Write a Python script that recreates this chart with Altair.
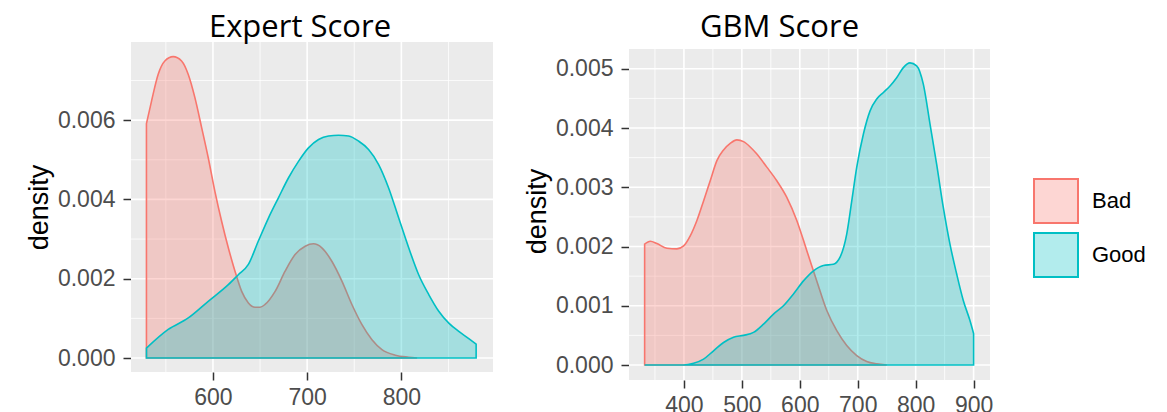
import altair as alt
import pandas as pd

# ---------------- data ----------------
groups = ["Bad", "Good"]
line_colors = ["#F8766D", "#00BFC4"]
fill_colors = ["rgba(248,118,109,0.3)", "rgba(0,191,196,0.3)"]

expert_bad_x = [529.4, 534.8, 541.8, 548.9, 557.8, 566.7, 573.8, 580.9, 588.0, 595.0,
                602.0, 609.2, 616.3, 623.4, 630.5, 637.6, 644.7, 650.0, 655.3, 666.0,
                676.6, 687.2, 697.9, 706.7, 715.6, 726.2, 736.9, 747.5, 758.2, 768.8,
                779.4, 793.6, 807.8, 816.7]
expert_bad_y = [0.00591, 0.00648, 0.00715, 0.00749, 0.00760, 0.00749, 0.00715, 0.00656,
                0.00581, 0.00505, 0.00421, 0.00345, 0.00278, 0.00219, 0.00168, 0.00139,
                0.00128, 0.00128, 0.00135, 0.00168, 0.00219, 0.00261, 0.00282, 0.00288,
                0.00278, 0.00244, 0.00194, 0.00135, 0.00084, 0.00046, 0.00021, 0.00007,
                0.00002, 0.0]

expert_good_x = [529.4, 552.5, 573.8, 595.0, 616.3, 626.9, 637.6, 648.2, 658.9, 669.5,
                 680.1, 690.8, 701.4, 712.1, 722.7, 733.3, 744.0, 754.6, 765.2, 775.9,
                 786.5, 797.2, 807.8, 818.4, 829.1, 839.7, 850.4, 861.0, 871.6, 879.4]
expert_good_y = [0.00025, 0.00072, 0.00101, 0.00143, 0.00185, 0.00210, 0.00236, 0.00295,
                 0.00353, 0.00404, 0.00454, 0.00496, 0.00530, 0.00551, 0.00560, 0.00562,
                 0.00560, 0.00547, 0.00526, 0.00488, 0.00429, 0.00353, 0.00278, 0.00210,
                 0.00160, 0.00118, 0.00088, 0.00067, 0.00049, 0.00035]

gbm_bad_x = [332.2, 342.0, 353.4, 370.7, 387.9, 399.4, 410.9, 422.4, 433.9, 445.4,
             456.9, 468.4, 479.9, 491.4, 502.9, 514.4, 525.9, 543.1, 560.3, 577.6,
             594.8, 612.1, 629.3, 646.6, 663.8, 681.0, 698.3, 715.5, 732.8, 750.0]
gbm_bad_y = [0.00204, 0.00209, 0.00205, 0.00197, 0.00196, 0.00201, 0.00218, 0.00244,
             0.00277, 0.00311, 0.00345, 0.00363, 0.00374, 0.00380, 0.00377, 0.00368,
             0.00356, 0.00334, 0.00311, 0.00283, 0.00244, 0.00193, 0.00142, 0.00092,
             0.00058, 0.00033, 0.00016, 0.00006, 0.00002, 0.0]

gbm_good_x = [332.2, 399.4, 416.7, 433.9, 451.1, 468.4, 485.6, 502.9, 520.1, 537.4,
              554.6, 571.8, 589.1, 606.3, 623.6, 640.8, 658.0, 669.5, 681.0, 689.7,
              698.3, 709.8, 721.3, 732.8, 744.3, 755.7, 767.2, 778.7, 790.2, 801.7,
              813.2, 824.7, 836.2, 847.7, 859.2, 870.7, 882.2, 893.7, 900.0]
gbm_good_y = [0.0, 0.0, 0.00003, 0.00010, 0.00024, 0.00038, 0.00047, 0.00050, 0.00055,
              0.00069, 0.00086, 0.00100, 0.00120, 0.00142, 0.00159, 0.00168, 0.00170,
              0.00182, 0.00221, 0.00277, 0.00334, 0.00390, 0.00429, 0.00449, 0.00460,
              0.00471, 0.00485, 0.00502, 0.00510, 0.00505, 0.00474, 0.00407, 0.00339,
              0.00266, 0.00204, 0.00154, 0.00109, 0.00075, 0.00053]

# axis breaks
expert_x_major = [600, 700, 800]
expert_x_minor = [550, 650, 750, 850]
expert_y_major = [0.000, 0.002, 0.004, 0.006]
expert_y_minor = [0.001, 0.003, 0.005, 0.007]
gbm_x_major = [400, 500, 600, 700, 800, 900]
gbm_x_minor = [350, 450, 550, 650, 750, 850]
gbm_y_major = [0.000, 0.001, 0.002, 0.003, 0.004, 0.005]
gbm_y_minor = [0.0005, 0.0015, 0.0025, 0.0035, 0.0045]


def long_df(bx, by, gx, gy):
    return pd.concat([
        pd.DataFrame({"x": bx, "y": by, "group": groups[0]}),
        pd.DataFrame({"x": gx, "y": gy, "group": groups[1]}),
    ], ignore_index=True)


LABEL_FONT = "Liberation Sans"


def make_legend():
    return alt.Legend(title=None, orient="none", legendX=902, legendY=136,
                      symbolType="square", symbolSize=1936, symbolStrokeWidth=2,
                      labelFontSize=22, labelFont=LABEL_FONT, labelColor="black",
                      labelOffset=13, rowPadding=2, padding=0)


def panel(df, title, xdom, ydom, xmaj, xmin, ymaj, ymin, W, H, top, dx):
    xs = alt.Scale(domain=xdom, nice=False, zero=False)
    ys = alt.Scale(domain=ydom, nice=False, zero=False)
    xaxis = alt.Axis(values=xmaj, title=None, grid=False, domain=False,
                     tickColor="#333333", tickSize=8, tickWidth=1.5,
                     labelColor="#4D4D4D", labelFontSize=23, labelFont=LABEL_FONT,
                     labelPadding=6)
    yaxis = alt.Axis(values=ymaj, format=".3f", title="density", grid=False, domain=False,
                     tickColor="#333333", tickSize=8, tickWidth=1.5,
                     labelColor="#4D4D4D", labelFontSize=23, labelFont=LABEL_FONT,
                     labelPadding=8, titleFont=LABEL_FONT, titleFontSize=27,
                     titleColor="black", titleFontWeight="normal", titlePadding=4)

    bg = alt.Chart(alt.Data(values=[{}])).mark_rect(color="#EBEBEB").encode(
        x=alt.value(0), x2=alt.value(W), y=alt.value(top), y2=alt.value(H))

    def vrules(vals, w):
        return alt.Chart(pd.DataFrame({"v": vals})).mark_rule(color="white", strokeWidth=w).encode(
            x=alt.X("v:Q", scale=xs, axis=xaxis))

    def hrules(vals, w):
        return alt.Chart(pd.DataFrame({"v": vals})).mark_rule(color="white", strokeWidth=w).encode(
            y=alt.Y("v:Q", scale=ys, axis=yaxis))

    areas = alt.Chart(df).mark_area(strokeWidth=1.6, interpolate="monotone").encode(
        x=alt.X("x:Q", scale=xs, axis=xaxis),
        y=alt.Y("y:Q", scale=ys, axis=yaxis, stack=False),
        fill=alt.Fill("group:N", scale=alt.Scale(domain=groups, range=fill_colors),
                      legend=make_legend()),
        stroke=alt.Stroke("group:N", scale=alt.Scale(domain=groups, range=line_colors),
                          legend=make_legend()),
    )

    return alt.layer(
        bg, vrules(xmin, 0.8), hrules(ymin, 0.8), vrules(xmaj, 1.6), hrules(ymaj, 1.6), areas
    ).properties(
        width=W, height=H,
        title=alt.TitleParams(title, font="Open Sans", fontSize=31, fontWeight="normal",
                              color="black", anchor="middle", offset=-3, dx=dx),
    )


p1 = panel(long_df(expert_bad_x, expert_bad_y, expert_good_x, expert_good_y),
           "Expert Score", [513.0, 897.3], [-0.000353, 0.00797],
           expert_x_major, expert_x_minor, expert_y_major, expert_y_minor,
           362, 330, 0, -12)
p2 = panel(long_df(gbm_bad_x, gbm_bad_y, gbm_good_x, gbm_good_y),
           "GBM Score", [305.2, 928.3], [-0.000253, 0.005452],
           gbm_x_major, gbm_x_minor, gbm_y_major, gbm_y_minor,
           361, 338, 7, -30)

chart = alt.hconcat(p1, p2, spacing=29).properties(
    padding={"left": 17, "top": 4, "right": 5, "bottom": 0}
).configure_view(strokeWidth=0)

chart.save("out.html", embed_options={"renderer": "svg", "actions": False})
